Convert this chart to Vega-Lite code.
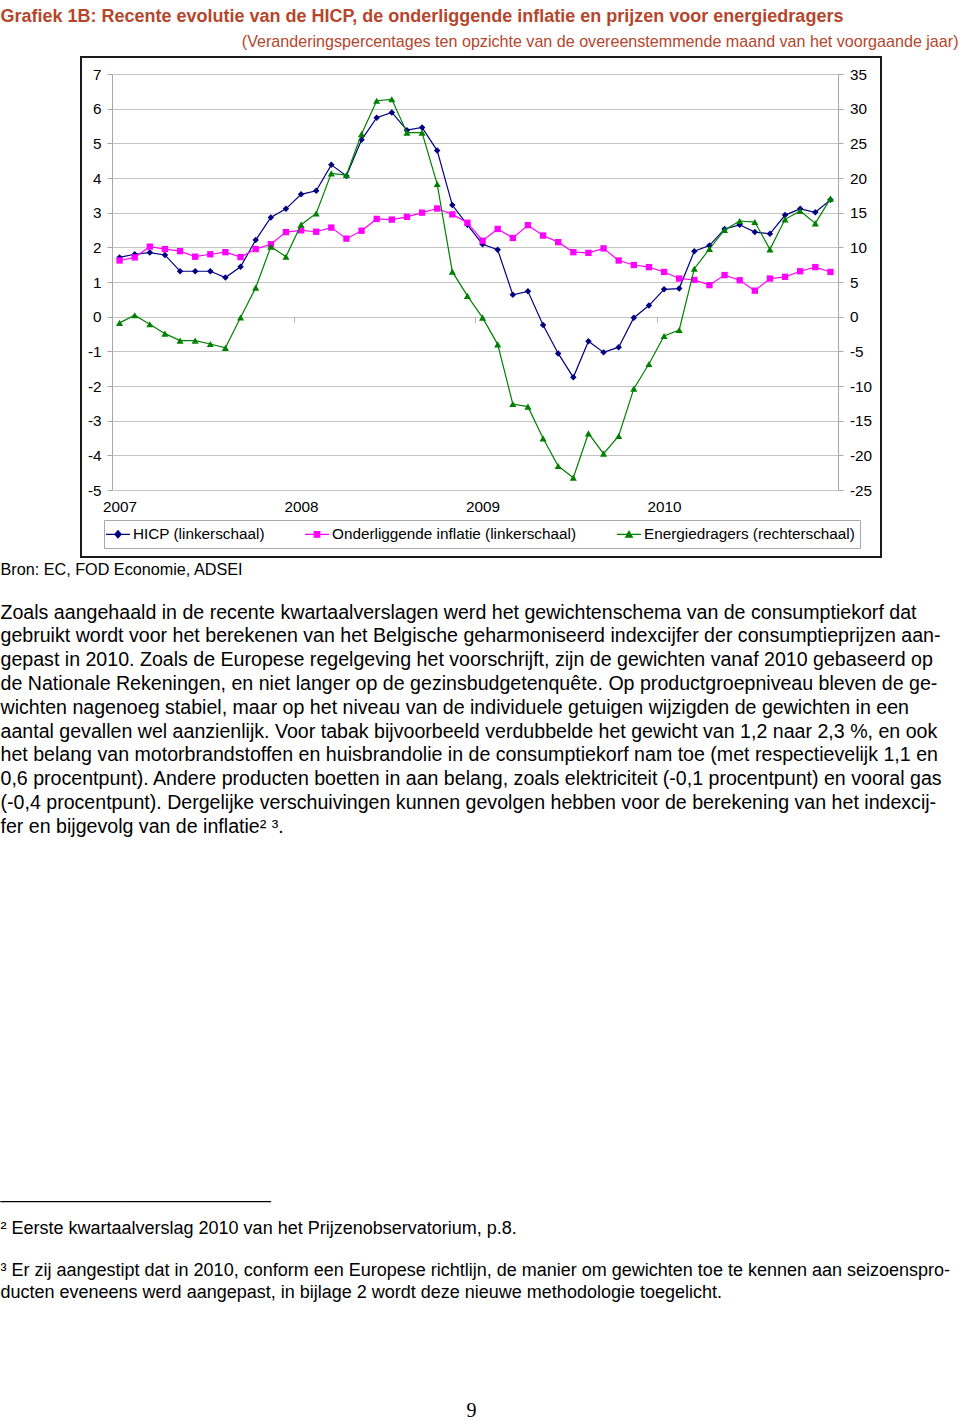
{
  "$schema": "https://vega.github.io/schema/vega-lite/v6.json",
  "width": 726,
  "height": 416,
  "autosize": {"type": "none"},
  "padding": {"left": 112, "top": 74, "right": 122, "bottom": 931},
  "background": "white",
  "config": {"font": "Liberation Sans", "view": {"stroke": null}},
  "data": {
    "values": [
      {"i": 0, "maand": "2007-01", "hicp": 1.71, "kern": 1.62, "energie": -0.9},
      {"i": 1, "maand": "2007-02", "hicp": 1.80, "kern": 1.71, "energie": 0.2},
      {"i": 2, "maand": "2007-03", "hicp": 1.85, "kern": 2.02, "energie": -1.1},
      {"i": 3, "maand": "2007-04", "hicp": 1.78, "kern": 1.95, "energie": -2.45},
      {"i": 4, "maand": "2007-05", "hicp": 1.31, "kern": 1.89, "energie": -3.46},
      {"i": 5, "maand": "2007-06", "hicp": 1.31, "kern": 1.73, "energie": -3.46},
      {"i": 6, "maand": "2007-07", "hicp": 1.31, "kern": 1.80, "energie": -3.94},
      {"i": 7, "maand": "2007-08", "hicp": 1.13, "kern": 1.86, "energie": -4.5},
      {"i": 8, "maand": "2007-09", "hicp": 1.44, "kern": 1.72, "energie": -0.12},
      {"i": 9, "maand": "2007-10", "hicp": 2.21, "kern": 1.95, "energie": 4.18},
      {"i": 10, "maand": "2007-11", "hicp": 2.86, "kern": 2.09, "energie": 10.1},
      {"i": 11, "maand": "2007-12", "hicp": 3.11, "kern": 2.44, "energie": 8.65},
      {"i": 12, "maand": "2008-01", "hicp": 3.53, "kern": 2.49, "energie": 13.27},
      {"i": 13, "maand": "2008-02", "hicp": 3.63, "kern": 2.45, "energie": 14.9},
      {"i": 14, "maand": "2008-03", "hicp": 4.38, "kern": 2.57, "energie": 20.67},
      {"i": 15, "maand": "2008-04", "hicp": 4.06, "kern": 2.25, "energie": 20.43},
      {"i": 16, "maand": "2008-05", "hicp": 5.10, "kern": 2.48, "energie": 26.35},
      {"i": 17, "maand": "2008-06", "hicp": 5.74, "kern": 2.82, "energie": 31.15},
      {"i": 18, "maand": "2008-07", "hicp": 5.89, "kern": 2.80, "energie": 31.35},
      {"i": 19, "maand": "2008-08", "hicp": 5.38, "kern": 2.88, "energie": 26.54},
      {"i": 20, "maand": "2008-09", "hicp": 5.46, "kern": 3.00, "energie": 26.54},
      {"i": 21, "maand": "2008-10", "hicp": 4.79, "kern": 3.12, "energie": 19.13},
      {"i": 22, "maand": "2008-11", "hicp": 3.22, "kern": 2.95, "energie": 6.49},
      {"i": 23, "maand": "2008-12", "hicp": 2.65, "kern": 2.71, "energie": 3.0},
      {"i": 24, "maand": "2009-01", "hicp": 2.09, "kern": 2.19, "energie": -0.14},
      {"i": 25, "maand": "2009-02", "hicp": 1.93, "kern": 2.53, "energie": -3.99},
      {"i": 26, "maand": "2009-03", "hicp": 0.63, "kern": 2.27, "energie": -12.6},
      {"i": 27, "maand": "2009-04", "hicp": 0.73, "kern": 2.64, "energie": -12.98},
      {"i": 28, "maand": "2009-05", "hicp": -0.24, "kern": 2.34, "energie": -17.55},
      {"i": 29, "maand": "2009-06", "hicp": -1.06, "kern": 2.15, "energie": -21.54},
      {"i": 30, "maand": "2009-07", "hicp": -1.75, "kern": 1.86, "energie": -23.22},
      {"i": 31, "maand": "2009-08", "hicp": -0.71, "kern": 1.84, "energie": -16.83},
      {"i": 32, "maand": "2009-09", "hicp": -1.03, "kern": 1.97, "energie": -19.76},
      {"i": 33, "maand": "2009-10", "hicp": -0.88, "kern": 1.62, "energie": -17.21},
      {"i": 34, "maand": "2009-11", "hicp": -0.03, "kern": 1.49, "energie": -10.38},
      {"i": 35, "maand": "2009-12", "hicp": 0.32, "kern": 1.43, "energie": -6.83},
      {"i": 36, "maand": "2010-01", "hicp": 0.79, "kern": 1.29, "energie": -2.79},
      {"i": 37, "maand": "2010-02", "hicp": 0.81, "kern": 1.10, "energie": -1.92},
      {"i": 38, "maand": "2010-03", "hicp": 1.89, "kern": 1.06, "energie": 6.92},
      {"i": 39, "maand": "2010-04", "hicp": 2.05, "kern": 0.91, "energie": 9.76},
      {"i": 40, "maand": "2010-05", "hicp": 2.53, "kern": 1.20, "energie": 12.5},
      {"i": 41, "maand": "2010-06", "hicp": 2.65, "kern": 1.05, "energie": 13.8},
      {"i": 42, "maand": "2010-07", "hicp": 2.44, "kern": 0.75, "energie": 13.65},
      {"i": 43, "maand": "2010-08", "hicp": 2.39, "kern": 1.10, "energie": 9.71},
      {"i": 44, "maand": "2010-09", "hicp": 2.93, "kern": 1.15, "energie": 14.04},
      {"i": 45, "maand": "2010-10", "hicp": 3.11, "kern": 1.31, "energie": 15.24},
      {"i": 46, "maand": "2010-11", "hicp": 3.01, "kern": 1.43, "energie": 13.46},
      {"i": 47, "maand": "2010-12", "hicp": 3.37, "kern": 1.29, "energie": 17.02}
    ]
  },
  "layer": [
    {
      "encoding": {
        "x": {
          "field": "i", "type": "quantitative",
          "scale": {"domain": [-0.5, 47.5], "nice": false, "zero": false},
          "axis": {
            "orient": "bottom", "values": [0, 12, 24, 36],
            "labelExpr": "datum.value / 12 + 2007",
            "labelFlush": false, "labelFontSize": 15.3, "labelColor": "black",
            "labelPadding": 9, "ticks": false, "tickSize": 0, "domain": false, "grid": false,
            "title": "Bron: EC, FOD Economie, ADSEI",
            "titleX": -112, "titleY": 84, "titleAlign": "left", "titleBaseline": "alphabetic",
            "titleFontSize": 16.2, "titleFontWeight": "normal", "titleColor": "black", "titleLimit": 1000
          }
        }
      },
      "layer": [
        {
          "mark": {"type": "line", "color": "#000080", "strokeWidth": 1.2},
          "encoding": {
            "y": {
              "field": "hicp", "type": "quantitative",
              "scale": {"domain": [-5, 7], "nice": false, "zero": false},
              "axis": {"orient": "left", "values": [-5, -4, -3, -2, -1, 0, 1, 2, 3, 4, 5, 6, 7], "labelExpr": "'' + datum.value", "grid": true, "gridColor": "#c4c4c4", "domain": true, "domainColor": "#a8a8a8", "tickColor": "#a8a8a8", "tickSize": 5, "labelFontSize": 15.3, "labelColor": "black", "labelPadding": 6, "title": null}
            }
          }
        },
        {
          "mark": {"type": "point", "shape": "diamond", "filled": true, "color": "#000080", "size": 42, "opacity": 1},
          "encoding": {
            "y": {
              "field": "hicp", "type": "quantitative",
              "scale": {"domain": [-5, 7], "nice": false, "zero": false},
              "axis": {"orient": "left", "values": [-5, -4, -3, -2, -1, 0, 1, 2, 3, 4, 5, 6, 7], "labelExpr": "'' + datum.value", "grid": true, "gridColor": "#c4c4c4", "domain": true, "domainColor": "#a8a8a8", "tickColor": "#a8a8a8", "tickSize": 5, "labelFontSize": 15.3, "labelColor": "black", "labelPadding": 6, "title": null}
            }
          }
        },
        {
          "mark": {"type": "line", "color": "#ff00ff", "strokeWidth": 1.2},
          "encoding": {
            "y": {
              "field": "kern", "type": "quantitative",
              "scale": {"domain": [-5, 7], "nice": false, "zero": false},
              "axis": {"orient": "left", "values": [-5, -4, -3, -2, -1, 0, 1, 2, 3, 4, 5, 6, 7], "labelExpr": "'' + datum.value", "grid": true, "gridColor": "#c4c4c4", "domain": true, "domainColor": "#a8a8a8", "tickColor": "#a8a8a8", "tickSize": 5, "labelFontSize": 15.3, "labelColor": "black", "labelPadding": 6, "title": null}
            }
          }
        },
        {
          "mark": {"type": "point", "shape": "square", "filled": true, "color": "#ff00ff", "size": 40, "opacity": 1},
          "encoding": {
            "y": {
              "field": "kern", "type": "quantitative",
              "scale": {"domain": [-5, 7], "nice": false, "zero": false},
              "axis": {"orient": "left", "values": [-5, -4, -3, -2, -1, 0, 1, 2, 3, 4, 5, 6, 7], "labelExpr": "'' + datum.value", "grid": true, "gridColor": "#c4c4c4", "domain": true, "domainColor": "#a8a8a8", "tickColor": "#a8a8a8", "tickSize": 5, "labelFontSize": 15.3, "labelColor": "black", "labelPadding": 6, "title": null}
            }
          }
        }
      ]
    },
    {
      "encoding": {
        "x": {
          "field": "i", "type": "quantitative",
          "scale": {"domain": [-0.5, 47.5], "nice": false, "zero": false},
          "axis": {
            "orient": "bottom", "offset": -173.33, "values": [11.5, 23.5, 35.5],
            "labels": false, "domain": false, "grid": false,
            "ticks": true, "tickSize": 6, "tickColor": "#b8b8b8",
            "title": [
              "³ Er zij aangestipt dat in 2010, conform een Europese richtlijn, de manier om gewichten toe te kennen aan seizoenspro-",
              "ducten eveneens werd aangepast, in bijlage 2 wordt deze nieuwe methodologie toegelicht."
            ],
            "titleX": -112, "titleY": 959.3, "titleAlign": "left", "titleBaseline": "alphabetic",
            "titleFontSize": 18, "titleFontWeight": "normal", "titleColor": "black",
            "titleLineHeight": 21.7, "titleLimit": 2000
          }
        }
      },
      "layer": [
        {
          "mark": {"type": "line", "color": "#008000", "strokeWidth": 1.2},
          "encoding": {
            "y": {
              "field": "energie", "type": "quantitative",
              "scale": {"domain": [-25, 35], "nice": false, "zero": false},
              "axis": {"orient": "right", "values": [-25, -20, -15, -10, -5, 0, 5, 10, 15, 20, 25, 30, 35], "labelExpr": "'' + datum.value", "grid": false, "domain": true, "domainColor": "#a8a8a8", "tickColor": "#a8a8a8", "tickSize": 5, "labelFontSize": 15.3, "labelColor": "black", "labelPadding": 6.5, "title": null}
            }
          }
        },
        {
          "mark": {"type": "point", "shape": "triangle-up", "filled": true, "color": "#008000", "size": 50, "opacity": 1},
          "encoding": {
            "y": {
              "field": "energie", "type": "quantitative",
              "scale": {"domain": [-25, 35], "nice": false, "zero": false},
              "axis": {"orient": "right", "values": [-25, -20, -15, -10, -5, 0, 5, 10, 15, 20, 25, 30, 35], "labelExpr": "'' + datum.value", "grid": false, "domain": true, "domainColor": "#a8a8a8", "tickColor": "#a8a8a8", "tickSize": 5, "labelFontSize": 15.3, "labelColor": "black", "labelPadding": 6.5, "title": null}
            }
          }
        }
      ]
    },
    {
      "transform": [{"filter": "false"}],
      "mark": {"type": "point", "filled": true, "opacity": 1},
      "encoding": {
        "x": {
          "field": "i", "type": "quantitative",
          "scale": {"domain": [-0.5, 47.5], "nice": false, "zero": false},
          "axis": {
            "orient": "top", "labels": false, "ticks": false, "domain": false, "grid": false,
            "title": "Grafiek 1B: Recente evolutie van de HICP, de onderliggende inflatie en prijzen voor energiedragers",
            "titleX": -112, "titleY": -53, "titleAlign": "left", "titleBaseline": "alphabetic",
            "titleFontSize": 18, "titleFontWeight": "bold", "titleColor": "#b5462c", "titleLimit": 2000
          }
        },
        "y": {
          "field": "hicp", "type": "quantitative",
          "scale": {"domain": [0, 1], "nice": false},
          "axis": {
            "orient": "left", "labels": false, "ticks": false, "domain": false, "grid": false,
            "title": [
              "Zoals aangehaald in de recente kwartaalverslagen werd het gewichtenschema van de consumptiekorf dat",
              "gebruikt wordt voor het berekenen van het Belgische geharmoniseerd indexcijfer der consumptieprijzen aan-",
              "gepast in 2010. Zoals de Europese regelgeving het voorschrijft, zijn de gewichten vanaf 2010 gebaseerd op",
              "de Nationale Rekeningen, en niet langer op de gezinsbudgetenquête. Op productgroepniveau bleven de ge-",
              "wichten nagenoeg stabiel, maar op het niveau van de individuele getuigen wijzigden de gewichten in een",
              "aantal gevallen wel aanzienlijk. Voor tabak bijvoorbeeld verdubbelde het gewicht van 1,2 naar 2,3 %, en ook",
              "het belang van motorbrandstoffen en huisbrandolie in de consumptiekorf nam toe (met respectievelijk 1,1 en",
              "0,6 procentpunt). Andere producten boetten in aan belang, zoals elektriciteit (-0,1 procentpunt) en vooral gas",
              "(-0,4 procentpunt). Dergelijke verschuivingen kunnen gevolgen hebben voor de berekening van het indexcij-",
              "fer en bijgevolg van de inflatie² ³."
            ],
            "titleAngle": 0, "titleX": -112, "titleY": 544, "titleAlign": "left", "titleBaseline": "alphabetic",
            "titleFontSize": 19.6, "titleFontWeight": "normal", "titleColor": "black",
            "titleLineHeight": 23.8, "titleLimit": 2000
          }
        },
        "fill": {
          "field": "reeks", "type": "nominal",
          "scale": {
            "domain": ["HICP (linkerschaal)", "Onderliggende inflatie (linkerschaal)", "Energiedragers (rechterschaal)"],
            "range": ["#000080", "#ff00ff", "#008000"]
          },
          "legend": {
            "orient": "none", "legendX": -8, "legendY": 446,
            "direction": "horizontal", "columns": 3, "columnPadding": 37,
            "title": null,
            "padding": 5, "strokeColor": "#a8a8a8", "fillColor": "white",
            "symbolSize": 256, "symbolStrokeWidth": 1.2, "symbolOpacity": 1,
            "labelFontSize": 15.3, "labelColor": "black", "labelOffset": 6, "labelLimit": 400
          }
        },
        "stroke": {
          "field": "reeks", "type": "nominal",
          "scale": {
            "domain": ["HICP (linkerschaal)", "Onderliggende inflatie (linkerschaal)", "Energiedragers (rechterschaal)"],
            "range": ["#000080", "#ff00ff", "#008000"]
          }
        },
        "shape": {
          "field": "reeks", "type": "nominal",
          "scale": {
            "domain": ["HICP (linkerschaal)", "Onderliggende inflatie (linkerschaal)", "Energiedragers (rechterschaal)"],
            "range": [
              "M-1.5,0H1.5M-0.4,0L0,-0.45L0.4,0L0,0.45Z",
              "M-1.5,0H1.5M-0.35,-0.35H0.35V0.35H-0.35Z",
              "M-1.5,0H1.5M-0.42,0.36L0,-0.39L0.42,0.36Z"
            ]
          }
        }
      }
    },
    {
      "transform": [{"filter": "false"}],
      "mark": {"type": "point"},
      "encoding": {
        "x": {
          "field": "i", "type": "quantitative",
          "scale": {"domain": [-0.5, 47.5], "nice": false, "zero": false},
          "axis": {
            "orient": "top", "labels": false, "ticks": false, "domain": false, "grid": false,
            "title": [
              "___________________________",
              "² Eerste kwartaalverslag 2010 van het Prijzenobservatorium, p.8."
            ],
            "titleX": -112, "titleY": 1123, "titleAlign": "left", "titleBaseline": "alphabetic",
            "titleFontSize": 18, "titleFontWeight": "normal", "titleColor": "black",
            "titleLineHeight": 36, "titleLimit": 2000
          }
        },
        "y": {
          "field": "hicp", "type": "quantitative",
          "scale": {"domain": [0, 1], "nice": false},
          "axis": {
            "orient": "right", "labels": false, "ticks": false, "domain": false, "grid": false,
            "title": "(Veranderingspercentages ten opzichte van de overeenstemmende maand van het voorgaande jaar)",
            "titleAngle": 0, "titleX": 120, "titleY": -27.3, "titleAlign": "right", "titleBaseline": "alphabetic",
            "titleFontSize": 16.1, "titleFontWeight": "normal", "titleColor": "#b5462c", "titleLimit": 2000
          }
        }
      }
    },
    {
      "transform": [{"filter": "false"}],
      "mark": {"type": "point"},
      "encoding": {
        "x": {
          "field": "i", "type": "quantitative",
          "scale": {"domain": [-0.5, 47.5], "nice": false, "zero": false},
          "axis": {
            "orient": "top", "labels": false, "ticks": false, "domain": false, "grid": false,
            "title": "9",
            "titleX": 359, "titleY": 1342, "titleAlign": "center", "titleBaseline": "alphabetic",
            "titleFont": "Liberation Serif", "titleFontSize": 20, "titleFontWeight": "normal", "titleColor": "black"
          }
        },
        "opacity": {
          "field": "kader", "type": "nominal",
          "scale": {"domain": ["kader"], "range": [1]},
          "legend": {
            "orient": "none", "legendX": 318, "legendY": 182,
            "title": null, "padding": 0, "labelExpr": "''",
            "symbolType": "M-8,-5H8V5H-8Z", "symbolSize": 10000,
            "symbolFillColor": "transparent", "symbolStrokeColor": "#1a1a1a", "symbolStrokeWidth": 2, "symbolOpacity": 1
          }
        }
      }
    }
  ],
  "resolve": {"scale": {"y": "independent"}, "axis": {"x": "independent", "y": "independent"}}
}
